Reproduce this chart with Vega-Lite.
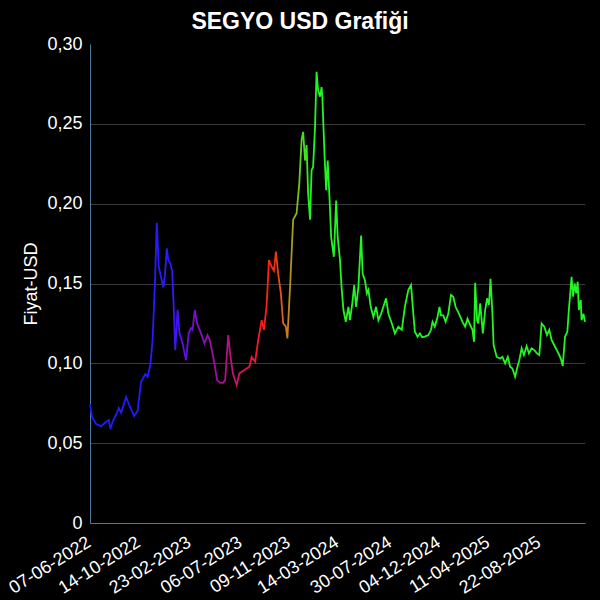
{
  "$schema": "https://vega.github.io/schema/vega-lite/v6.json",
  "width": 495,
  "height": 479,
  "autosize": {"type": "none"},
  "padding": {"left": 90, "top": 44, "right": 15, "bottom": 77},
  "background": "#000000",
  "title": {"text": "SEGYO USD Grafiği", "color": "#ffffff", "font": "Liberation Sans", "fontSize": 23, "fontWeight": "bold", "anchor": "middle", "dx": -37.5, "dy": 30, "offset": 8, "baseline": "bottom"},
  "config": {"view": {"stroke": null}},
  "data": {"values": [
    {"d": "2022-06-07", "v": 0.0745}, {"d": "2022-06-12", "v": 0.0666}, {"d": "2022-06-23", "v": 0.062}, {"d": "2022-07-06", "v": 0.0607},
    {"d": "2022-07-19", "v": 0.0634}, {"d": "2022-07-26", "v": 0.0645}, {"d": "2022-07-30", "v": 0.0589}, {"d": "2022-08-05", "v": 0.0634},
    {"d": "2022-08-16", "v": 0.0689}, {"d": "2022-08-21", "v": 0.072}, {"d": "2022-08-27", "v": 0.069}, {"d": "2022-09-09", "v": 0.0789},
    {"d": "2022-09-17", "v": 0.0739}, {"d": "2022-09-30", "v": 0.067}, {"d": "2022-10-09", "v": 0.0703}, {"d": "2022-10-18", "v": 0.0885},
    {"d": "2022-10-29", "v": 0.0933}, {"d": "2022-11-04", "v": 0.0916}, {"d": "2022-11-11", "v": 0.099}, {"d": "2022-11-17", "v": 0.1146},
    {"d": "2022-11-23", "v": 0.150}, {"d": "2022-11-28", "v": 0.188}, {"d": "2022-12-03", "v": 0.1605}, {"d": "2022-12-09", "v": 0.154},
    {"d": "2022-12-15", "v": 0.1476}, {"d": "2022-12-19", "v": 0.155}, {"d": "2022-12-24", "v": 0.172}, {"d": "2022-12-28", "v": 0.1647},
    {"d": "2023-01-02", "v": 0.1626}, {"d": "2023-01-07", "v": 0.158}, {"d": "2023-01-11", "v": 0.1354}, {"d": "2023-01-15", "v": 0.1083},
    {"d": "2023-01-21", "v": 0.1334}, {"d": "2023-01-26", "v": 0.1188}, {"d": "2023-02-03", "v": 0.1125}, {"d": "2023-02-12", "v": 0.102},
    {"d": "2023-02-19", "v": 0.1188}, {"d": "2023-02-25", "v": 0.122}, {"d": "2023-03-01", "v": 0.121}, {"d": "2023-03-07", "v": 0.1334},
    {"d": "2023-03-13", "v": 0.125}, {"d": "2023-03-23", "v": 0.1188}, {"d": "2023-04-01", "v": 0.1125}, {"d": "2023-04-09", "v": 0.1177},
    {"d": "2023-04-15", "v": 0.1146}, {"d": "2023-04-27", "v": 0.100}, {"d": "2023-05-04", "v": 0.0895}, {"d": "2023-05-12", "v": 0.0878},
    {"d": "2023-05-20", "v": 0.0878}, {"d": "2023-05-25", "v": 0.0895}, {"d": "2023-05-29", "v": 0.104}, {"d": "2023-06-02", "v": 0.1177},
    {"d": "2023-06-07", "v": 0.106}, {"d": "2023-06-14", "v": 0.0937}, {"d": "2023-06-24", "v": 0.0864}, {"d": "2023-07-01", "v": 0.0937},
    {"d": "2023-07-14", "v": 0.0958}, {"d": "2023-07-27", "v": 0.0979}, {"d": "2023-08-02", "v": 0.104}, {"d": "2023-08-11", "v": 0.101},
    {"d": "2023-08-19", "v": 0.1146}, {"d": "2023-08-28", "v": 0.127}, {"d": "2023-09-03", "v": 0.121}, {"d": "2023-09-10", "v": 0.1365},
    {"d": "2023-09-16", "v": 0.1647}, {"d": "2023-09-23", "v": 0.1605}, {"d": "2023-09-29", "v": 0.158}, {"d": "2023-10-04", "v": 0.170},
    {"d": "2023-10-10", "v": 0.156}, {"d": "2023-10-17", "v": 0.1438}, {"d": "2023-10-23", "v": 0.125}, {"d": "2023-10-30", "v": 0.123},
    {"d": "2023-11-03", "v": 0.1156}, {"d": "2023-11-10", "v": 0.148}, {"d": "2023-11-18", "v": 0.190}, {"d": "2023-11-27", "v": 0.194},
    {"d": "2023-12-04", "v": 0.2127}, {"d": "2023-12-10", "v": 0.240}, {"d": "2023-12-14", "v": 0.245}, {"d": "2023-12-19", "v": 0.227},
    {"d": "2023-12-23", "v": 0.2367}, {"d": "2023-12-27", "v": 0.2064}, {"d": "2024-01-01", "v": 0.190}, {"d": "2024-01-05", "v": 0.221},
    {"d": "2024-01-09", "v": 0.223}, {"d": "2024-01-14", "v": 0.248}, {"d": "2024-01-18", "v": 0.2826}, {"d": "2024-01-22", "v": 0.271},
    {"d": "2024-01-27", "v": 0.267}, {"d": "2024-01-31", "v": 0.273}, {"d": "2024-02-02", "v": 0.267}, {"d": "2024-02-08", "v": 0.229},
    {"d": "2024-02-12", "v": 0.2085}, {"d": "2024-02-16", "v": 0.227}, {"d": "2024-02-21", "v": 0.202}, {"d": "2024-02-25", "v": 0.179},
    {"d": "2024-03-03", "v": 0.1667}, {"d": "2024-03-09", "v": 0.202}, {"d": "2024-03-13", "v": 0.179}, {"d": "2024-03-19", "v": 0.1647},
    {"d": "2024-03-23", "v": 0.148}, {"d": "2024-03-28", "v": 0.1334}, {"d": "2024-04-03", "v": 0.126}, {"d": "2024-04-10", "v": 0.1354},
    {"d": "2024-04-14", "v": 0.127}, {"d": "2024-04-20", "v": 0.1376}, {"d": "2024-04-25", "v": 0.149}, {"d": "2024-04-30", "v": 0.1354},
    {"d": "2024-05-06", "v": 0.148}, {"d": "2024-05-13", "v": 0.180}, {"d": "2024-05-17", "v": 0.156}, {"d": "2024-05-23", "v": 0.152},
    {"d": "2024-05-28", "v": 0.1438}, {"d": "2024-06-01", "v": 0.146}, {"d": "2024-06-07", "v": 0.1354}, {"d": "2024-06-14", "v": 0.129},
    {"d": "2024-06-21", "v": 0.1354}, {"d": "2024-06-27", "v": 0.127}, {"d": "2024-07-04", "v": 0.131}, {"d": "2024-07-10", "v": 0.1354},
    {"d": "2024-07-17", "v": 0.1407}, {"d": "2024-07-23", "v": 0.131}, {"d": "2024-08-01", "v": 0.125}, {"d": "2024-08-09", "v": 0.1188},
    {"d": "2024-08-18", "v": 0.123}, {"d": "2024-08-27", "v": 0.121}, {"d": "2024-09-04", "v": 0.1354}, {"d": "2024-09-13", "v": 0.146},
    {"d": "2024-09-20", "v": 0.149}, {"d": "2024-09-26", "v": 0.131}, {"d": "2024-09-30", "v": 0.1198}, {"d": "2024-10-07", "v": 0.1167},
    {"d": "2024-10-13", "v": 0.1188}, {"d": "2024-10-19", "v": 0.1163}, {"d": "2024-10-26", "v": 0.1167}, {"d": "2024-11-04", "v": 0.1177},
    {"d": "2024-11-11", "v": 0.121}, {"d": "2024-11-15", "v": 0.126}, {"d": "2024-11-21", "v": 0.123}, {"d": "2024-11-28", "v": 0.129},
    {"d": "2024-12-03", "v": 0.1354}, {"d": "2024-12-07", "v": 0.130}, {"d": "2024-12-13", "v": 0.130}, {"d": "2024-12-19", "v": 0.126},
    {"d": "2024-12-26", "v": 0.131}, {"d": "2025-01-02", "v": 0.1428}, {"d": "2025-01-08", "v": 0.1417}, {"d": "2025-01-14", "v": 0.1354},
    {"d": "2025-01-23", "v": 0.131}, {"d": "2025-02-01", "v": 0.126}, {"d": "2025-02-08", "v": 0.123}, {"d": "2025-02-14", "v": 0.128},
    {"d": "2025-02-21", "v": 0.124}, {"d": "2025-02-27", "v": 0.121}, {"d": "2025-03-03", "v": 0.1135}, {"d": "2025-03-06", "v": 0.1505},
    {"d": "2025-03-11", "v": 0.127}, {"d": "2025-03-14", "v": 0.125}, {"d": "2025-03-19", "v": 0.1376}, {"d": "2025-03-26", "v": 0.1188},
    {"d": "2025-04-01", "v": 0.1334}, {"d": "2025-04-06", "v": 0.1407}, {"d": "2025-04-11", "v": 0.1365}, {"d": "2025-04-15", "v": 0.153},
    {"d": "2025-04-20", "v": 0.131}, {"d": "2025-04-23", "v": 0.1115}, {"d": "2025-05-01", "v": 0.104}, {"d": "2025-05-10", "v": 0.103},
    {"d": "2025-05-16", "v": 0.104}, {"d": "2025-05-23", "v": 0.100}, {"d": "2025-05-30", "v": 0.104}, {"d": "2025-06-05", "v": 0.0979},
    {"d": "2025-06-11", "v": 0.0968}, {"d": "2025-06-18", "v": 0.0916}, {"d": "2025-06-23", "v": 0.0968}, {"d": "2025-06-29", "v": 0.102},
    {"d": "2025-07-05", "v": 0.1094}, {"d": "2025-07-11", "v": 0.1052}, {"d": "2025-07-18", "v": 0.1108}, {"d": "2025-07-24", "v": 0.1062},
    {"d": "2025-07-31", "v": 0.1094}, {"d": "2025-08-07", "v": 0.1083}, {"d": "2025-08-14", "v": 0.1062}, {"d": "2025-08-20", "v": 0.1052},
    {"d": "2025-08-26", "v": 0.125}, {"d": "2025-09-02", "v": 0.123}, {"d": "2025-09-09", "v": 0.1177}, {"d": "2025-09-15", "v": 0.121},
    {"d": "2025-09-21", "v": 0.1146}, {"d": "2025-09-30", "v": 0.1104}, {"d": "2025-10-09", "v": 0.1062}, {"d": "2025-10-15", "v": 0.103},
    {"d": "2025-10-20", "v": 0.0983}, {"d": "2025-10-26", "v": 0.1167}, {"d": "2025-11-01", "v": 0.1198}, {"d": "2025-11-05", "v": 0.1334},
    {"d": "2025-11-10", "v": 0.148}, {"d": "2025-11-12", "v": 0.1542}, {"d": "2025-11-16", "v": 0.1417}, {"d": "2025-11-20", "v": 0.150},
    {"d": "2025-11-24", "v": 0.1438}, {"d": "2025-11-28", "v": 0.151}, {"d": "2025-12-01", "v": 0.1334}, {"d": "2025-12-06", "v": 0.1396},
    {"d": "2025-12-08", "v": 0.127}, {"d": "2025-12-13", "v": 0.131}, {"d": "2025-12-17", "v": 0.126}
  ]},
  "mark": {
    "type": "line",
    "strokeWidth": 1.8,
    "color": {
      "gradient": "linear", "x1": 0, "y1": 0, "x2": 1, "y2": 0,
      "stops": [
        {"offset": 0, "color": "#1a1aff"},
        {"offset": 0.162, "color": "#2a1aff"},
        {"offset": 0.192, "color": "#6010e0"},
        {"offset": 0.232, "color": "#8a10b0"},
        {"offset": 0.273, "color": "#b0108a"},
        {"offset": 0.313, "color": "#e01050"},
        {"offset": 0.347, "color": "#ff1818"},
        {"offset": 0.374, "color": "#f03010"},
        {"offset": 0.394, "color": "#d8701a"},
        {"offset": 0.408, "color": "#a89a18"},
        {"offset": 0.424, "color": "#60d020"},
        {"offset": 0.444, "color": "#22f522"},
        {"offset": 1, "color": "#22f522"}
      ]
    }
  },
  "encoding": {
    "x": {
      "field": "d", "type": "temporal",
      "scale": {"type": "utc", "nice": false, "domain": [{"year": 2022, "month": 6, "date": 7, "utc": true}, {"year": 2025, "month": 12, "date": 17, "utc": true}]},
      "axis": {
        "title": null,
        "grid": false,
        "ticks": false,
        "domainColor": "#50789a",
        "labelColor": "#ffffff",
        "labelFont": "Liberation Sans",
        "labelFontSize": 18,
        "labelAngle": -32,
        "labelAlign": "right",
        "labelBaseline": "top",
        "labelPadding": 10,
        "labelOffset": -6,
        "labelOverlap": false,
        "values": [
          {"year": 2022, "month": 6, "date": 7, "utc": true},
          {"year": 2022, "month": 10, "date": 14, "utc": true},
          {"year": 2023, "month": 2, "date": 23, "utc": true},
          {"year": 2023, "month": 7, "date": 6, "utc": true},
          {"year": 2023, "month": 11, "date": 9, "utc": true},
          {"year": 2024, "month": 3, "date": 14, "utc": true},
          {"year": 2024, "month": 7, "date": 30, "utc": true},
          {"year": 2024, "month": 12, "date": 4, "utc": true},
          {"year": 2025, "month": 4, "date": 11, "utc": true},
          {"year": 2025, "month": 8, "date": 22, "utc": true}
        ],
        "labelExpr": "utcFormat(datum.value, '%d-%m-%Y')"
      }
    },
    "y": {
      "field": "v", "type": "quantitative",
      "scale": {"domain": [0, 0.3], "nice": false},
      "axis": {
        "title": "Fiyat-USD",
        "titleColor": "#ffffff",
        "titleFont": "Liberation Sans",
        "titleFontSize": 18,
        "titleFontWeight": "normal",
        "titlePadding": 6,
        "labelColor": "#ffffff",
        "labelFont": "Liberation Sans",
        "labelFontSize": 18,
        "labelPadding": 8,
        "ticks": false,
        "grid": true,
        "gridColor": "#3a3a3a",
        "gridOpacity": {"condition": {"test": "datum.value >= 0.3", "value": 0}, "value": 1},
        "domainColor": "#50789a",
        "values": [0, 0.05, 0.1, 0.15, 0.2, 0.25, 0.3],
        "labelExpr": "datum.value == 0 ? '0' : replace(format(datum.value, '.2f'), '.', ',')"
      }
    }
  }
}
